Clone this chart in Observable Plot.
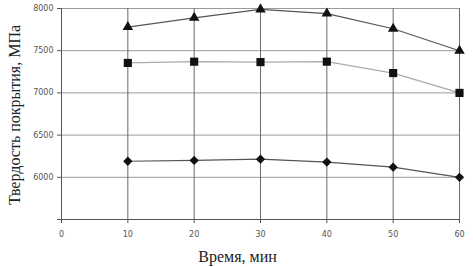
<!DOCTYPE html>
<html><head><meta charset="utf-8">
<script src="https://cdn.jsdelivr.net/npm/d3@7"></script>
<script src="https://cdn.jsdelivr.net/npm/@observablehq/plot@0.6"></script>
<style>body{margin:0;background:#fff}</style>
</head><body><div id="chart"></div>
<script>
const times = [10, 20, 30, 40, 50, 60];
const triangleSeries = [7780, 7890, 7990, 7940, 7760, 7500];
const squareSeries = [7355, 7370, 7365, 7370, 7235, 7000];
const diamondSeries = [6190, 6200, 6215, 6180, 6120, 6000];
const xTicks = [0, 10, 20, 30, 40, 50, 60];
const yTicks = [5500, 6000, 6500, 7000, 7500, 8000];
const yTitle = "Твердость покрытия, МПа";
const xTitle = "Время, мин";

const rows = (vals) => times.map((t, i) => ({t, v: vals[i]}));
const tri = rows(triangleSeries), sq = rows(squareSeries), dia = rows(diamondSeries);

const chart = Plot.plot({
  width: 473, height: 267,
  marginLeft: 61, marginRight: 14, marginTop: 8, marginBottom: 48,
  x: {domain: [0, 60]},
  y: {domain: [5500, 8000]},
  style: {background: "#fff"},
  marks: [
    Plot.gridY(yTicks, {stroke: "#9a9a9a", strokeOpacity: 1, strokeWidth: 1}),
    Plot.gridX(times, {stroke: "#6a6a6a", strokeOpacity: 1, strokeWidth: 1}),
    Plot.ruleX([0], {stroke: "#555"}),
    Plot.ruleY([5500], {stroke: "#555"}),
    Plot.axisY({ticks: yTicks, tickSize: 4, tickPadding: 4, label: null,
      tickFormat: d => d === 5500 ? "" : String(d),
      fontSize: 8, fontFamily: "DejaVu Sans", color: "#555", stroke: "#555"}),
    Plot.axisX({ticks: xTicks, tickSize: 4, tickPadding: 8, label: null,
      fontSize: 8, fontFamily: "DejaVu Sans", color: "#555"}),
    Plot.line(tri, {x: "t", y: "v", stroke: "#555", strokeWidth: 1.2}),
    Plot.line(sq, {x: "t", y: "v", stroke: "#aaa", strokeWidth: 1.2}),
    Plot.line(dia, {x: "t", y: "v", stroke: "#555", strokeWidth: 1.2}),
    Plot.dot(tri, {x: "t", y: "v", symbol: "triangle", r: 3.9, fill: "#111", stroke: "none"}),
    Plot.dot(sq, {x: "t", y: "v", symbol: "square", r: 4.6, fill: "#111", stroke: "none"}),
    Plot.dot(dia, {x: "t", y: "v", symbol: "diamond2", r: 4.2, fill: "#111", stroke: "none"}),
    Plot.text([yTitle], {frameAnchor: "left", textAnchor: "middle", lineAnchor: "middle",
      rotate: -90, dx: -47, dy: 1,
      fontSize: 16, fontFamily: "Liberation Serif", fill: "#222"}),
    Plot.text([xTitle], {frameAnchor: "bottom", textAnchor: "middle", lineAnchor: "middle",
      dx: -23, dy: 37,
      fontSize: 16, fontFamily: "Liberation Serif", fill: "#222"})
  ]
});
document.getElementById("chart").appendChild(chart);
</script>
</body></html>
